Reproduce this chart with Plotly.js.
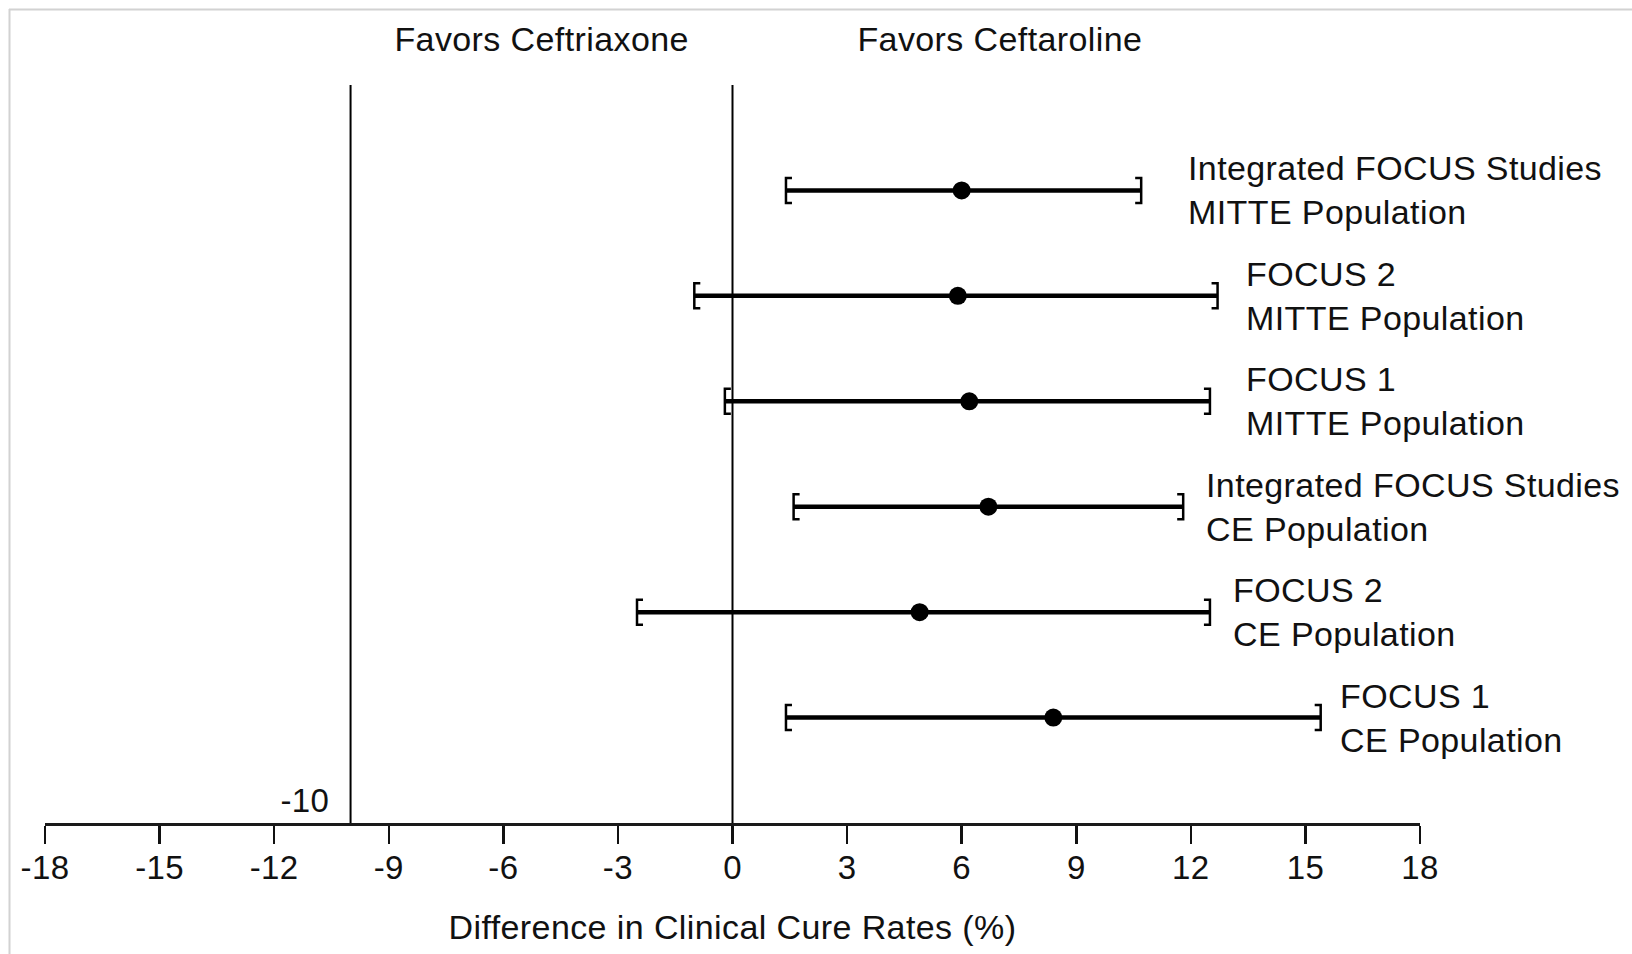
<!DOCTYPE html>
<html>
<head>
<meta charset="utf-8">
<script src="https://cdn.plot.ly/plotly-3.0.1.min.js"></script>
<style>
  html, body { margin: 0; padding: 0; background: #fff; }
  #chart { width: 1632px; height: 954px; }
  #chart text { letter-spacing: 0.4px; }
</style>
</head>
<body>
<div id="chart"></div>
<script>
// Study populations, listed top to bottom
const studies = ['Integrated FOCUS Studies', 'FOCUS 2', 'FOCUS 1', 'Integrated FOCUS Studies', 'FOCUS 2', 'FOCUS 1'];
const populations = ['MITTE Population', 'MITTE Population', 'MITTE Population', 'CE Population', 'CE Population', 'CE Population'];

// Difference in clinical cure rate, ceftaroline minus ceftriaxone (%), with 95% CI
const difference = [6.0, 5.9, 6.2, 6.7, 4.9, 8.4];
const ciLower = [1.4, -1.0, -0.2, 1.6, -2.5, 1.4];
const ciUpper = [10.7, 12.7, 12.5, 11.8, 12.5, 15.4];

// Reference lines: non-inferiority margin and no difference
const marginLine = [-10];
const noDiffLine = [0];

// x-axis ticks
const xTickValues = [-18, -15, -12, -9, -6, -3, 0, 3, 6, 9, 12, 15, 18];
const xTickLabels = ['-18', '-15', '-12', '-9', '-6', '-3', '0', '3', '6', '9', '12', '15', '18'];

const sideLabels = ['Favors Ceftriaxone', 'Favors Ceftaroline'];
const xTitle = 'Difference in Clinical Cure Rates (%)';

// ---- layout geometry ----
const W = 1632, H = 954;
const M = { l: 45, r: 212, t: 85, b: 131 };
const plotW = W - M.l - M.r, plotH = H - M.t - M.b;
const X_RANGE = [-18, 18], Y_RANGE = [0, 7];
const pxPerX = plotW / (X_RANGE[1] - X_RANGE[0]);
const pxPerY = plotH / (Y_RANGE[1] - Y_RANGE[0]);
const paperX = px => (px - M.l) / plotW;
const paperY = px => (H - M.b - px) / plotH;

// Where each row's text block starts (x, in axis units)
const labelX = [11.87, 13.40, 13.40, 12.34, 13.05, 15.85];

const FONT = 'Liberation Sans, Arial, Helvetica, sans-serif';
const INK = '#111111';
const TEXT_SIZE = 34;

const rowY = studies.map((_, i) => studies.length - i);

// Point estimates with the CI drawn as horizontal error bars
const estimates = {
  type: 'scatter',
  mode: 'markers',
  x: difference,
  y: rowY,
  marker: { color: '#000', size: 18 },
  error_x: {
    type: 'data',
    symmetric: false,
    array: ciUpper.map((u, i) => u - difference[i]),
    arrayminus: ciLower.map((l, i) => difference[i] - l),
    color: '#000',
    thickness: 4.5,
    width: 0
  },
  hoverinfo: 'skip',
  showlegend: false
};

// Bracket-shaped end caps on each interval
const hook = 6 / pxPerX;      // horizontal serif length
const half = 12.5 / pxPerY;   // half height of the cap
const bx = [], by = [];
rowY.forEach((y, i) => {
  const lo = ciLower[i], hi = ciUpper[i];
  bx.push(lo + hook, lo, lo, lo + hook, null, hi - hook, hi, hi, hi - hook, null);
  by.push(y + half, y + half, y - half, y - half, null, y + half, y + half, y - half, y - half, null);
});
const brackets = {
  type: 'scatter',
  mode: 'lines',
  x: bx,
  y: by,
  line: { color: '#000', width: 2.5 },
  connectgaps: false,
  hoverinfo: 'skip',
  showlegend: false
};

// Vertical reference lines
const refShapes = marginLine.concat(noDiffLine).map(v => ({
  type: 'line', xref: 'x', yref: 'y',
  x0: v, x1: v, y0: Y_RANGE[0], y1: Y_RANGE[1],
  line: { color: '#000', width: 2 },
  layer: 'below'
}));

// Light frame along the top and left edges
const frame = [
  { type: 'line', xref: 'paper', yref: 'paper',
    x0: paperX(9), x1: paperX(W), y0: paperY(9.5), y1: paperY(9.5),
    line: { color: '#d2d2d2', width: 2 } },
  { type: 'line', xref: 'paper', yref: 'paper',
    x0: paperX(9.5), x1: paperX(9.5), y0: paperY(9), y1: paperY(H),
    line: { color: '#d2d2d2', width: 2 } }
];

const rowAnnotations = studies.map((s, i) => ({
  xref: 'x', yref: 'y',
  x: labelX[i], y: rowY[i],
  xanchor: 'left', yanchor: 'middle', align: 'left',
  text: s + '<br>' + populations[i],
  showarrow: false,
  font: { family: FONT, size: TEXT_SIZE, color: INK }
}));

const sideAnnotations = [
  { x: -5, text: sideLabels[0] },
  { x: 7, text: sideLabels[1] }
].map(a => ({
  xref: 'x', yref: 'paper',
  x: a.x, y: paperY(38.5),
  xanchor: 'center', yanchor: 'middle',
  text: a.text, showarrow: false,
  font: { family: FONT, size: TEXT_SIZE, color: INK }
}));

const marginLabel = {
  xref: 'x', yref: 'y',
  x: marginLine[0], y: Y_RANGE[0],
  xanchor: 'right', yanchor: 'middle',
  xshift: -20, yshift: 23,
  text: String(marginLine[0]), showarrow: false,
  font: { family: FONT, size: 33, color: INK }
};

const layout = {
  width: W, height: H,
  margin: M,
  paper_bgcolor: '#fff',
  plot_bgcolor: '#fff',
  font: { family: FONT, color: INK },
  showlegend: false,
  xaxis: {
    range: X_RANGE,
    tickmode: 'array',
    tickvals: xTickValues,
    ticktext: xTickLabels,
    ticks: 'outside',
    ticklen: 18,
    tickwidth: 2.5,
    tickcolor: '#111',
    ticklabelstandoff: -5,
    showline: true,
    linecolor: '#1a1a1a',
    linewidth: 3,
    showgrid: false,
    zeroline: false,
    tickfont: { family: FONT, size: 33, color: INK },
    title: { text: xTitle, font: { family: FONT, size: TEXT_SIZE, color: INK }, standoff: 31 },
    automargin: false,
    fixedrange: true
  },
  yaxis: {
    range: Y_RANGE,
    visible: false,
    showgrid: false,
    zeroline: false,
    fixedrange: true
  },
  shapes: refShapes.concat(frame),
  annotations: rowAnnotations.concat(sideAnnotations, [marginLabel])
};

Plotly.newPlot('chart', [estimates, brackets], layout, { displayModeBar: false, staticPlot: true });
</script>
</body>
</html>
